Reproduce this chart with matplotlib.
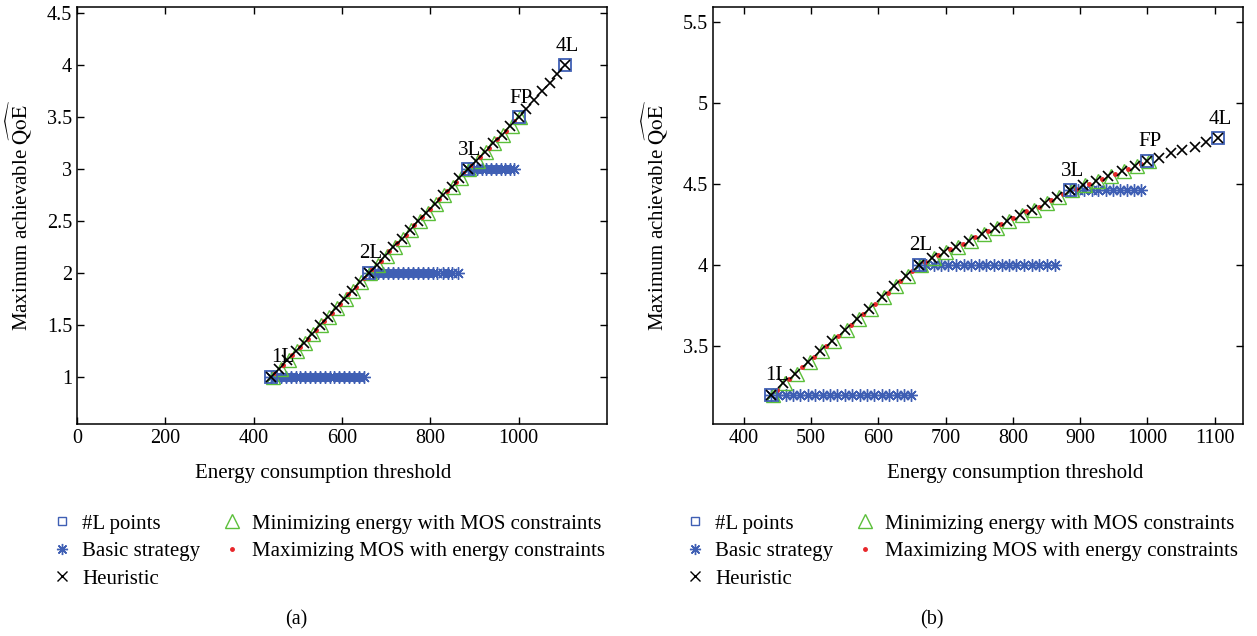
#!/usr/bin/env python3
"""
Maximum achievable QoE vs energy consumption threshold, two panels.
(a) layer-index QoE, (b) MOS-based QoE. Writes out.png.
"""

import matplotlib
matplotlib.use("Agg")
import matplotlib.pyplot as plt
from matplotlib.ticker import FormatStrFormatter

plt.rcParams["font.family"] = ["Liberation Serif", "DejaVu Serif"]
plt.rcParams["mathtext.fontset"] = "stix"
plt.rcParams["font.size"] = 14

# ---- data ----------------------------------------------------------------
# #L points (1L, 2L, 3L, FP, 4L)
L_LABELS = ["1L", "2L", "3L", "FP", "4L"]
L_ENERGY = [440, 660, 885, 1000, 1105]
L_QOE_A = [1.0, 2.0, 3.0, 3.5, 4.0]
L_QOE_B = [3.2, 4.0, 4.46, 4.64, 4.78]

# Basic strategy: flat runs at the level of the last reached layer
BASIC_E1 = [440, 451, 462, 473, 484, 495, 506, 517, 528, 539,
            550, 561, 572, 583, 594, 605, 616, 627, 638, 649]
BASIC_E2 = [660, 671, 682, 693, 704, 716, 727, 738, 749, 760,
            772, 783, 794, 805, 816, 828, 839, 850, 862]
BASIC_E3 = [885, 896, 906, 917, 927, 938, 948, 959, 969, 980, 990]
BASIC_LEVEL_A = [1.0, 2.0, 3.0]
BASIC_LEVEL_B = [3.2, 4.0, 4.46]

# Heuristic
HEUR_E = [440, 458, 476, 495, 513, 531, 550, 568, 586, 605, 623, 641, 660,
          679, 698, 716, 735, 754, 773, 791, 810, 829, 848, 866, 885,
          904, 923, 942, 962, 981, 1000,
          1017, 1035, 1052, 1070, 1087, 1105]
HEUR_QOE_A = [1.00, 1.08, 1.17, 1.25, 1.33, 1.42, 1.50, 1.58, 1.67, 1.75, 1.83, 1.92, 2.00,
              2.08, 2.17, 2.25, 2.33, 2.42, 2.50, 2.58, 2.67, 2.75, 2.83, 2.92, 3.00,
              3.08, 3.17, 3.25, 3.33, 3.42, 3.50,
              3.58, 3.67, 3.75, 3.83, 3.92, 4.00]
HEUR_QOE_B = [3.20, 3.27, 3.33, 3.40, 3.47, 3.53, 3.60, 3.67, 3.73, 3.80, 3.87, 3.93, 4.00,
              4.04, 4.08, 4.11, 4.15, 4.19, 4.23, 4.27, 4.31, 4.34, 4.38, 4.42, 4.46,
              4.49, 4.52, 4.55, 4.58, 4.61, 4.64,
              4.66, 4.69, 4.71, 4.73, 4.76, 4.78]

# Minimizing energy with MOS constraints
MINE_E = [443, 461, 479, 498, 516, 534, 553, 571, 589, 608, 626, 644, 663,
          682, 701, 719, 738, 757, 776, 794, 813, 832, 851, 869, 888,
          907, 926, 945, 965, 984, 1002]
MINE_QOE_A = [1.00, 1.08, 1.17, 1.25, 1.33, 1.42, 1.50, 1.58, 1.67, 1.75, 1.83, 1.92, 2.00,
              2.08, 2.17, 2.25, 2.33, 2.42, 2.50, 2.58, 2.67, 2.75, 2.83, 2.92, 3.00,
              3.08, 3.17, 3.25, 3.33, 3.42, 3.50]
MINE_QOE_B = [3.20, 3.27, 3.33, 3.40, 3.47, 3.53, 3.60, 3.67, 3.73, 3.80, 3.87, 3.93, 4.00,
              4.04, 4.08, 4.11, 4.15, 4.19, 4.23, 4.27, 4.31, 4.34, 4.38, 4.42, 4.46,
              4.49, 4.52, 4.55, 4.58, 4.61, 4.64]

# Maximizing MOS with energy constraints
MAXM_E = [449, 467, 486, 504, 522, 540, 559, 577, 595, 614, 632, 650,
          669, 688, 707, 725, 744, 763, 782, 800, 819, 838, 857, 875,
          894, 913, 932, 952, 971, 990]
MAXM_QOE_A = [1.04, 1.12, 1.21, 1.29, 1.37, 1.45, 1.54, 1.62, 1.70, 1.80, 1.87, 1.95,
              2.04, 2.12, 2.21, 2.29, 2.37, 2.46, 2.54, 2.62, 2.71, 2.79, 2.88, 2.96,
              3.04, 3.12, 3.20, 3.29, 3.37, 3.46]
MAXM_QOE_B = [3.23, 3.30, 3.37, 3.43, 3.50, 3.56, 3.63, 3.70, 3.76, 3.83, 3.90, 3.96,
              4.02, 4.06, 4.10, 4.13, 4.17, 4.21, 4.25, 4.29, 4.33, 4.36, 4.40, 4.44,
              4.47, 4.50, 4.53, 4.56, 4.59, 4.62]

BLUE = "#3F5FB4"
GREEN = "#5BBF3A"
RED = "#E8262A"
ASTERISK = (8, 2, 0)


def draw_panel(ax, l_qoe, basic_levels, heur_qoe, mine_qoe, maxm_qoe, first_dx):
    for e_run, lvl in zip([BASIC_E1, BASIC_E2, BASIC_E3], basic_levels):
        ax.plot(e_run, [lvl] * len(e_run), ls="none", marker=ASTERISK, ms=9,
                mec=BLUE, mew=1.0, zorder=2)
    ax.plot(MINE_E, mine_qoe, ls="none", marker="^", ms=10, mfc="none",
            mec=GREEN, mew=1.0, zorder=3)
    ax.plot(MAXM_E, maxm_qoe, ls="none", marker=".", ms=5, color=RED, zorder=4)
    ax.plot(HEUR_E, heur_qoe, ls="none", marker="x", ms=7.5, mec="black",
            mew=1.2, zorder=5)
    ax.plot(L_ENERGY, l_qoe, ls="none", marker="s", ms=8, mfc="none",
            mec=BLUE, mew=1.3, zorder=4)

    # the 1L tag sits a little right of its point in the original
    for i, (lab, e, q) in enumerate(zip(L_LABELS, L_ENERGY, l_qoe)):
        dx = first_dx if i == 0 else 1.5
        ax.annotate(lab, (e, q), xytext=(dx, 7), textcoords="offset points",
                    ha="center", va="bottom", fontsize=15)

    ax.tick_params(direction="in", top=True, right=True, length=5, width=1.0,
                   labelsize=14.5)
    for sp in ax.spines.values():
        sp.set_linewidth(1.1)
    ax.yaxis.set_major_formatter(FormatStrFormatter("%g"))
    ax.set_xlabel("Energy consumption threshold", fontsize=15)
    ax.set_ylabel(r"Maximum achievable $\widehat{\mathrm{QoE}}$", fontsize=15)
    ax.yaxis.set_label_coords(-0.082, 0.5)


def add_legend(fig, ax, x0, y0):
    h_sq, = ax.plot([], [], ls="none", marker="s", ms=6, mfc="none", mec=BLUE, mew=1.0)
    h_ba, = ax.plot([], [], ls="none", marker=ASTERISK, ms=8, mec=BLUE, mew=1.0)
    h_he, = ax.plot([], [], ls="none", marker="x", ms=7, mec="black", mew=1.0)
    h_mi, = ax.plot([], [], ls="none", marker="^", ms=10, mfc="none", mec=GREEN, mew=1.0)
    h_ma, = ax.plot([], [], ls="none", marker=".", ms=5, color=RED)
    fig.legend(
        [h_sq, h_ba, h_he, h_mi, h_ma],
        ["#L points", "Basic strategy", "Heuristic",
         "Minimizing energy with MOS constraints",
         "Maximizing MOS with energy constraints"],
        loc="upper left", bbox_to_anchor=(x0, y0), ncol=2, frameon=False,
        borderpad=0, borderaxespad=0, handlelength=1.0, handletextpad=0.46,
        columnspacing=1.0, labelspacing=0.38, fontsize=15,
    )


W, H = 1257, 636
fig = plt.figure(figsize=(W / 100, H / 100), dpi=100)
ax_a = fig.add_axes([77 / W, 1 - 424 / H, 530 / W, 417 / H])
ax_b = fig.add_axes([713 / W, 1 - 424 / H, 530 / W, 417 / H])

draw_panel(ax_a, L_QOE_A, BASIC_LEVEL_A, HEUR_QOE_A, MINE_QOE_A, MAXM_QOE_A, 8)
ax_a.set_xlim(0, 1200)
ax_a.set_ylim(0.55, 4.56)
ax_a.set_xticks([0, 200, 400, 600, 800, 1000])
ax_a.set_yticks([1, 1.5, 2, 2.5, 3, 3.5, 4, 4.5])
ax_a.xaxis.set_label_coords(0.464, -0.095)

draw_panel(ax_b, L_QOE_B, BASIC_LEVEL_B, HEUR_QOE_B, MINE_QOE_B, MAXM_QOE_B, 4)
ax_b.set_xlim(354, 1142)
ax_b.set_ylim(3.02, 5.59)
ax_b.set_xticks([400, 500, 600, 700, 800, 900, 1000, 1100])
ax_b.set_yticks([3.5, 4, 4.5, 5, 5.5])
ax_b.xaxis.set_label_coords(0.57, -0.095)

add_legend(fig, ax_a, 52 / W, 1 - 514 / H)
add_legend(fig, ax_b, 685 / W, 1 - 514 / H)

fig.text(296 / W, 1 - 620 / H, "(a)", ha="center", va="center", fontsize=14.5)
fig.text(932 / W, 1 - 620 / H, "(b)", ha="center", va="center", fontsize=14.5)

fig.savefig("out.png", dpi=100)
